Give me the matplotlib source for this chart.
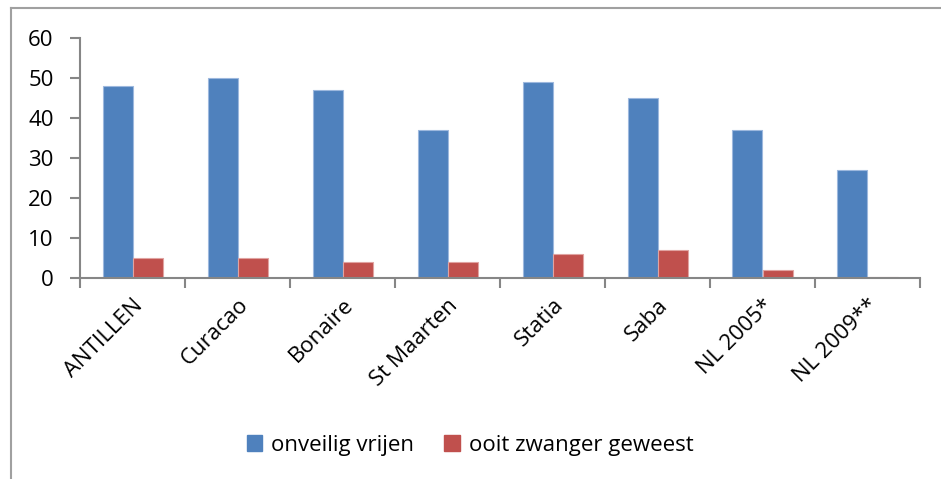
import matplotlib
matplotlib.use("Agg")
import matplotlib.pyplot as plt
import numpy as np
from matplotlib.lines import Line2D

categories = ["ANTILLEN", "Curacao", "Bonaire", "St Maarten", "Statia", "Saba", "NL 2005*", "NL 2009**"]
onveilig_vrijen = [48, 50, 47, 37, 49, 45, 37, 27]
ooit_zwanger = [5, 5, 4, 4, 6, 7, 2, 0.2]
series_names = ["onveilig vrijen", "ooit zwanger geweest"]
yticks = [0, 10, 20, 30, 40, 50, 60]

blue = "#4F81BD"
red = "#C0504D"
axis_grey = "#868686"

plt.rcParams["font.family"] = ["Open Sans", "DejaVu Sans"]
FS = 16

W, H = 941, 479
fig = plt.figure(figsize=(W / 100, H / 100), dpi=100)
ax = fig.add_axes([80 / W, 1 - 278 / H, 840 / W, 240 / H])

x = np.arange(len(categories))
bw = 30 / 105
ax.bar(x - bw / 2, onveilig_vrijen, width=bw, color=blue, edgecolor="#9DB8DE", linewidth=0.8, label=series_names[0])
ax.bar(x + bw / 2, ooit_zwanger, width=bw, color=red, edgecolor="#E0A3A1", linewidth=0.8, label=series_names[1])

ax.set_xlim(-0.5, len(categories) - 0.5)
ax.set_ylim(0, 60)
ax.set_yticks(yticks)
ax.set_yticklabels([str(v) for v in yticks], fontsize=FS)

ax.set_xticks(x)
ax.set_xticklabels(categories, fontsize=FS, rotation=45, ha="right", rotation_mode="anchor")
ax.set_xticks(np.arange(len(categories) + 1) - 0.5, minor=True)
ax.tick_params(axis="x", which="major", length=0, pad=12)
ax.tick_params(axis="x", which="minor", length=7, width=1.5, color=axis_grey, direction="out")
ax.tick_params(axis="y", length=7, width=1.5, color=axis_grey, direction="out", pad=12)

for s in ["top", "right"]:
    ax.spines[s].set_visible(False)
for s in ["left", "bottom"]:
    ax.spines[s].set_color(axis_grey)
    ax.spines[s].set_linewidth(1.5)

handles = [
    plt.Rectangle((0, 0), 1, 1, color=blue),
    plt.Rectangle((0, 0), 1, 1, color=red),
]
fig.legend(handles, series_names, loc="center", bbox_to_anchor=(470 / W, 1 - 445 / H),
           ncol=2, frameon=False, fontsize=FS, handlelength=0.7, handleheight=0.7,
           handletextpad=0.4, columnspacing=1.35)

# chart-area frame
fig.add_artist(Line2D([11 / W, 1], [1 - 8 / H, 1 - 8 / H], transform=fig.transFigure, color="#A0A0A0", lw=1.5))
fig.add_artist(Line2D([11 / W, 11 / W], [0, 1 - 8 / H], transform=fig.transFigure, color="#A0A0A0", lw=1.5))

fig.savefig("out.png", dpi=100)
